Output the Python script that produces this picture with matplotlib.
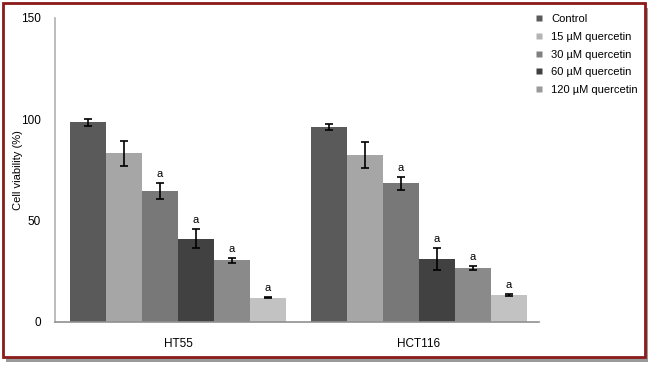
import matplotlib.pyplot as plt
from matplotlib.patches import Rectangle
from matplotlib.lines import Line2D
import numpy as np

groups = ["HT55", "HCT116"]
series = ["Control", "15 µM quercetin", "30 µM quercetin", "60 µM quercetin",
          "120 µM quercetin", ""]
ht55 = [98.5, 83.2, 64.8, 41.1, 30.4, 12.0]
ht55_err = [1.6, 6.3, 4.0, 4.7, 1.3, 0.4]
hct116 = [96.2, 82.4, 68.4, 31.1, 26.6, 13.3]
hct116_err = [1.6, 6.3, 3.1, 5.2, 1.1, 0.7]
marks = ["", "", "a", "a", "a", "a"]

colors = ["#5a5a5a", "#a6a6a6", "#787878", "#414141", "#8a8a8a", "#c2c2c2"]
legend_colors = ["#5a5a5a", "#b4b4b4", "#808080", "#404040", "#9a9a9a"]

fig = plt.figure(figsize=(6.5, 3.66), dpi=100)
plt.rcParams["font.family"] = ["Liberation Sans", "DejaVu Sans"]

# frame with shadow
fig.patches.append(Rectangle((6 / 650, 1 - 362 / 366), 642 / 650, 354 / 366,
                             transform=fig.transFigure, facecolor="#9a9a9a",
                             edgecolor="none", zorder=0))
fig.patches.append(Rectangle((3 / 650, 1 - 357 / 366), 642 / 650, 354 / 366,
                             transform=fig.transFigure, facecolor="white",
                             edgecolor="#8b1a1a", linewidth=2, zorder=1))

ax = fig.add_axes([55 / 650, 44 / 366, 484 / 650, 304 / 366])
ax.set_zorder(2)
ax.patch.set_alpha(0)

g2_offset = 6.69
for gi, (vals, errs) in enumerate([(ht55, ht55_err), (hct116, hct116_err)]):
    xs = np.arange(6) + gi * g2_offset
    ax.bar(xs, vals, width=1.0, color=colors, edgecolor="none")
    ax.errorbar(xs, vals, yerr=errs, fmt="none", ecolor="black",
                elinewidth=1.2, capsize=3, capthick=1.2)
    for x, v, e, m in zip(xs, vals, errs, marks):
        if m:
            ax.text(x, v + e + 2, m, ha="center", va="bottom", fontsize=8)
    ax.text(xs.mean(), -8, groups[gi], ha="center", va="top", fontsize=8.5)

ax.set_xlim(-0.92, 12.53)
ax.set_ylim(0, 150)
ax.set_yticks([0, 50, 100, 150])
ax.tick_params(axis="y", length=0, labelsize=8.5, pad=10)
ax.set_xticks([])
for s in ["top", "right"]:
    ax.spines[s].set_visible(False)
ax.spines["left"].set_color("#b0b0b0")
ax.spines["bottom"].set_color("#909090")
ax.spines["left"].set_linewidth(1.2)
ax.spines["bottom"].set_linewidth(1.2)
fig.text(18 / 650, 1 - 170 / 366, "Cell viability (%)", rotation=90,
         ha="center", va="center", fontsize=8)

handles = [Line2D([], [], marker="s", linestyle="none", markersize=5,
                  markerfacecolor=c, markeredgecolor="none") for c in legend_colors]
fig.legend(handles, series[:5], loc="upper left",
           bbox_to_anchor=(522 / 650, 1 - 4 / 366), frameon=False,
           fontsize=8, handletextpad=0.5, labelspacing=0.7, handlelength=1.2)

fig.savefig("out.png", dpi=100)
